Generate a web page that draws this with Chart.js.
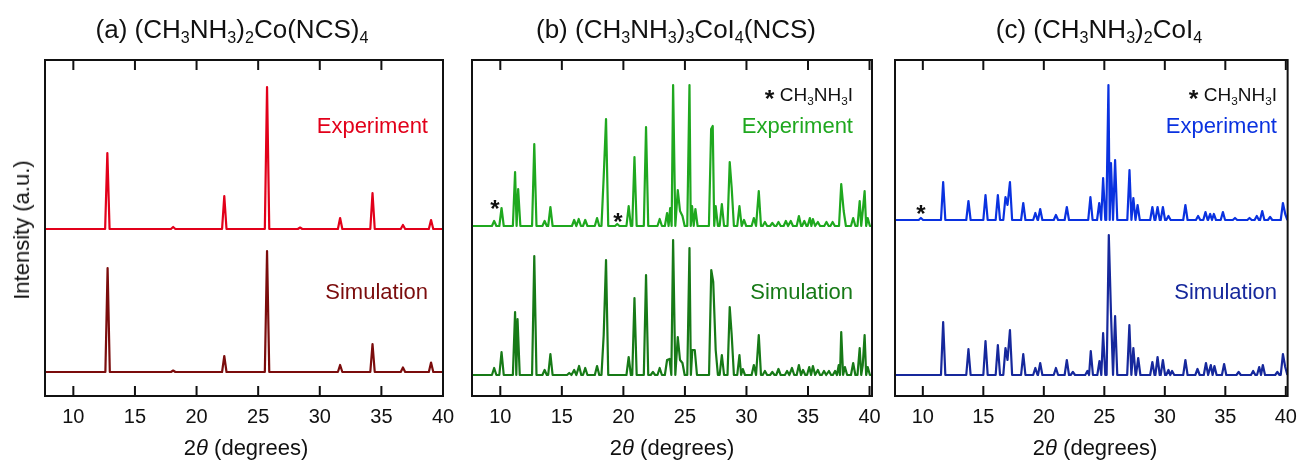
<!DOCTYPE html>
<html>
<head>
<meta charset="utf-8">
<script src="https://cdn.jsdelivr.net/npm/chart.js@4.4.1/dist/chart.umd.min.js"></script>
<style>
body { margin: 0; background: #fff; width: 1306px; height: 461px; overflow: hidden; position: relative;
  font-family: "Liberation Sans", Arial, sans-serif; color: #111; }
canvas { position: absolute; left: 0; top: 0; }
.t { position: absolute; white-space: nowrap; line-height: 1; }
.title { font-size: 26px; top: 16px; transform: translateX(-50%); }
.title sub, .leg sub { font-size: 0.62em; vertical-align: -0.3em; line-height: 0; }
.lab { font-size: 22px; transform: translateX(-100%); }
.leg { font-size: 19px; transform: translateX(-100%); }
.leg b { font-size: 1.3em; position: relative; top: 6px; }
.xl { font-size: 22px; top: 437px; transform: translateX(-50%); }
.star { font-size: 24px; font-weight: bold; transform: translate(-50%, -50%); }
</style>
</head>
<body>
<canvas id="ca" width="1306" height="461"></canvas>
<canvas id="cb" width="1306" height="461"></canvas>
<canvas id="cc" width="1306" height="461"></canvas>

<div class="t title" style="left:232px">(a) (CH<sub>3</sub>NH<sub>3</sub>)<sub>2</sub>Co(NCS)<sub>4</sub></div>
<div class="t title" style="left:676px">(b) (CH<sub>3</sub>NH<sub>3</sub>)<sub>3</sub>CoI<sub>4</sub>(NCS)</div>
<div class="t title" style="left:1099px">(c) (CH<sub>3</sub>NH<sub>3</sub>)<sub>2</sub>CoI<sub>4</sub></div>

<div class="t lab" style="left:428px;top:115px;color:#e2001a">Experiment</div>
<div class="t lab" style="left:428px;top:281px;color:#7b0c0c">Simulation</div>
<div class="t leg" style="left:853px;top:81px"><b>*</b> CH<sub>3</sub>NH<sub>3</sub>I</div>
<div class="t lab" style="left:853px;top:115px;color:#1fa81f">Experiment</div>
<div class="t lab" style="left:853px;top:281px;color:#177a17">Simulation</div>
<div class="t leg" style="left:1277px;top:81px"><b>*</b> CH<sub>3</sub>NH<sub>3</sub>I</div>
<div class="t lab" style="left:1277px;top:115px;color:#0a32e0">Experiment</div>
<div class="t lab" style="left:1277px;top:281px;color:#16289c">Simulation</div>

<div class="t star" style="left:495px;top:209px">*</div>
<div class="t star" style="left:618px;top:222px">*</div>
<div class="t star" style="left:921px;top:214px">*</div>

<div class="t xl" style="left:246px">2<i>θ</i> (degrees)</div>
<div class="t xl" style="left:672px">2<i>θ</i> (degrees)</div>
<div class="t xl" style="left:1095px">2<i>θ</i> (degrees)</div>
<div class="t" style="font-size:22px;left:22px;top:230px;transform:translate(-50%,-50%) rotate(-90deg)">Intensity (a.u.)</div>

<script>
// x ticks shared by all panels
const xTicks = [10, 15, 20, 25, 30, 35, 40];

// (a) (CH3NH3)2Co(NCS)4 : peak positions (2theta) and heights (a.u.)
const aExpOffset = 167;
const aExpPos = [12.76, 18.1, 22.25, 25.72, 28.4, 31.65, 34.28, 36.75, 39.03];
const aExpInt = [76, 2, 33, 142, 1.5, 11, 36, 4, 9];
const aSimOffset = 24;
const aSimPos = [12.78, 18.1, 22.25, 25.72, 31.65, 34.28, 36.75, 39.03];
const aSimInt = [104, 1.5, 16, 121, 7, 28, 4.5, 9.5];

// (b) (CH3NH3)3CoI4(NCS)
const bExpOffset = 170;
const bExpPos = [9.5, 10.1, 11.2, 11.45, 12.76, 13.6, 14.07, 16.0, 16.37, 16.9, 17.86, 18.4, 18.59, 19.5,
  20.43, 20.9, 21.84, 22.95, 23.55, 23.8, 24.04, 24.42, 24.6, 24.8, 25.37, 25.58, 25.85,
  27.13, 27.26, 27.5, 28.0, 28.64, 28.8, 29.43, 29.8, 30.6, 31.0, 31.5, 32.1, 32.6, 33.2, 33.6,
  34.26, 34.7, 35.15, 35.4, 35.8, 36.5, 37.0, 37.7, 37.9, 38.67, 39.2, 39.45, 39.6, 39.85];
const bExpInt = [5, 18, 54, 37, 82, 5, 19, 6, 7, 6, 8, 49, 107, 2,
  20, 69, 99, 7, 13, 18, 141, 36, 15, 10, 141, 20, 17,
  97, 100, 20, 22, 64, 38, 20, 6, 8, 35, 4, 3, 4, 5, 5,
  10, 5, 8, 7, 4, 4, 4, 42, 15, 8, 25, 15, 35, 8];
const bSimOffset = 21;
const bSimPos = [9.5, 10.1, 11.2, 11.4, 12.76, 13.6, 14.07, 15.6, 16.0, 16.4, 16.9, 17.86, 18.4, 18.59,
  20.43, 20.9, 21.84, 22.4, 22.95, 23.55, 23.75, 24.04, 24.42, 24.6, 24.8, 25.37, 25.6, 25.8,
  27.14, 27.3, 27.5, 28.0, 28.64, 28.8, 29.43, 29.7, 30.6, 31.0, 31.5, 32.1, 32.6, 33.3, 33.7,
  34.26, 34.6, 35.1, 35.4, 35.8, 36.3, 36.7, 37.2, 37.5, 37.7, 38.0, 38.67, 39.2, 39.45, 39.6, 39.85];
const bSimInt = [7, 23, 63, 56, 119, 5, 21, 2, 5, 9, 7, 9, 40, 115,
  18, 77, 100, 3, 7, 15, 16, 135, 38, 15, 12, 127, 25, 25,
  105, 93, 25, 20, 68, 40, 20, 6, 10, 40, 4, 3, 6, 4, 7,
  10, 5, 8, 9, 5, 4, 4, 4, 10, 43, 8, 12, 27, 10, 40, 8];

// (c) (CH3NH3)2CoI4
const cExpOffset = 176;
const cExpPos = [9.84, 11.68, 13.77, 15.18, 16.2, 16.83, 17.0, 17.2, 18.3, 19.3, 19.7, 21.0, 21.9,
  23.85, 24.58, 24.9, 25.34, 25.55, 25.89, 27.08, 27.4, 27.75, 28.97, 29.4, 29.84, 30.3,
  31.7, 32.75, 33.36, 33.75, 34.05, 34.8, 35.8, 37.0, 37.6, 38.05, 38.7, 39.76, 39.95];
const cExpInt = [2, 38, 19, 25, 25, 23, 15, 38, 17, 7, 11, 5, 13,
  23, 17, 42, 135, 57, 60, 50, 22, 15, 13, 13, 13, 4,
  15, 4, 8, 6, 6, 8, 2, 2, 4, 9, 3, 17, 6];
const cSimOffset = 21;
const cSimPos = [11.68, 13.77, 15.18, 16.2, 16.83, 17.0, 17.2, 18.3, 19.3, 19.7, 21.0, 21.9, 22.4,
  23.6, 23.88, 24.6, 24.9, 25.37, 25.55, 25.89, 27.07, 27.4, 27.8, 28.97, 29.4, 29.84, 30.3, 30.6,
  31.7, 32.7, 33.4, 33.8, 34.1, 34.9, 36.1, 37.3, 37.8, 38.1, 39.3, 39.76, 39.95];
const cSimInt = [53, 26, 34, 30, 27, 15, 45, 21, 7, 12, 7, 15, 3,
  4, 24, 14, 42, 140, 62, 59, 50, 27, 17, 13, 18, 15, 5, 4,
  15, 6, 12, 10, 9, 11, 3, 4, 8, 10, 3, 21, 8];

const FOOT = 0.18;   // half width of a peak at its base, degrees
const MERGE = 0.2;   // peaks closer than this share one hump

// turn a peak list into a polyline along the baseline
function trace(pos, h, base, xmin, xmax) {
  const pts = [{ x: xmin, y: base }, { x: pos[0] - FOOT, y: base }];
  pos.forEach((p, i) => {
    pts.push({ x: p, y: base + h[i] });
    if (i === pos.length - 1) { pts.push({ x: p + FOOT, y: base }); return; }
    const gap = pos[i + 1] - p;
    if (gap >= 2 * FOOT) {
      pts.push({ x: p + FOOT, y: base }, { x: pos[i + 1] - FOOT, y: base });
    } else if (gap >= MERGE) {
      pts.push({ x: p + gap / 2, y: base });
    }
  });
  pts.push({ x: xmax, y: base });
  return pts;
}

const frame = {
  id: 'frame',
  afterDraw(chart) {
    const { ctx, chartArea: a, scales: { x } } = chart;
    ctx.save();
    ctx.strokeStyle = '#111';
    ctx.lineWidth = 2;
    ctx.strokeRect(a.left, a.top, a.right - a.left, a.bottom - a.top);
    ctx.beginPath();
    x.ticks.forEach(t => {
      const px = x.getPixelForValue(t.value);
      ctx.moveTo(px, a.bottom); ctx.lineTo(px, a.bottom - 10);
      ctx.moveTo(px, a.top); ctx.lineTo(px, a.top + 10);
    });
    ctx.stroke();
    ctx.restore();
  }
};

function panel(id, left, right, xmax, exp, sim) {
  const xmin = 7.7;
  new Chart(document.getElementById(id), {
    type: 'scatter',
    data: {
      datasets: [
        { data: trace(exp.pos, exp.h, exp.off, xmin, xmax), borderColor: exp.color },
        { data: trace(sim.pos, sim.h, sim.off, xmin, xmax), borderColor: sim.color }
      ]
    },
    options: {
      responsive: false,
      animation: false,
      showLine: true,
      elements: { point: { radius: 0 }, line: { borderWidth: 2.2, tension: 0, borderJoinStyle: 'round' } },
      layout: { padding: { left: left, right: 1306 - right, top: 60, bottom: 0 } },
      plugins: { legend: { display: false }, tooltip: { enabled: false } },
      scales: {
        x: {
          type: 'linear', min: xmin, max: xmax,
          afterBuildTicks: s => { s.ticks = xTicks.map(v => ({ value: v })); },
          afterFit: s => { s.height = 65; },
          grid: { display: false, drawTicks: false },
          border: { display: false },
          ticks: { color: '#111', padding: 9, font: { family: 'Liberation Sans', size: 20 } }
        },
        y: { display: false, min: 0, max: 336 }
      }
    },
    plugins: [frame]
  });
}

panel('ca', 45, 443, 40,
  { pos: aExpPos, h: aExpInt, off: aExpOffset, color: '#e2001a' },
  { pos: aSimPos, h: aSimInt, off: aSimOffset, color: '#7b0c0c' });
panel('cb', 472, 872, 40.2,
  { pos: bExpPos, h: bExpInt, off: bExpOffset, color: '#1fa81f' },
  { pos: bSimPos, h: bSimInt, off: bSimOffset, color: '#177a17' });
panel('cc', 895, 1294, 40.15,
  { pos: cExpPos, h: cExpInt, off: cExpOffset, color: '#0a32e0' },
  { pos: cSimPos, h: cSimInt, off: cSimOffset, color: '#16289c' });
</script>
</body>
</html>
